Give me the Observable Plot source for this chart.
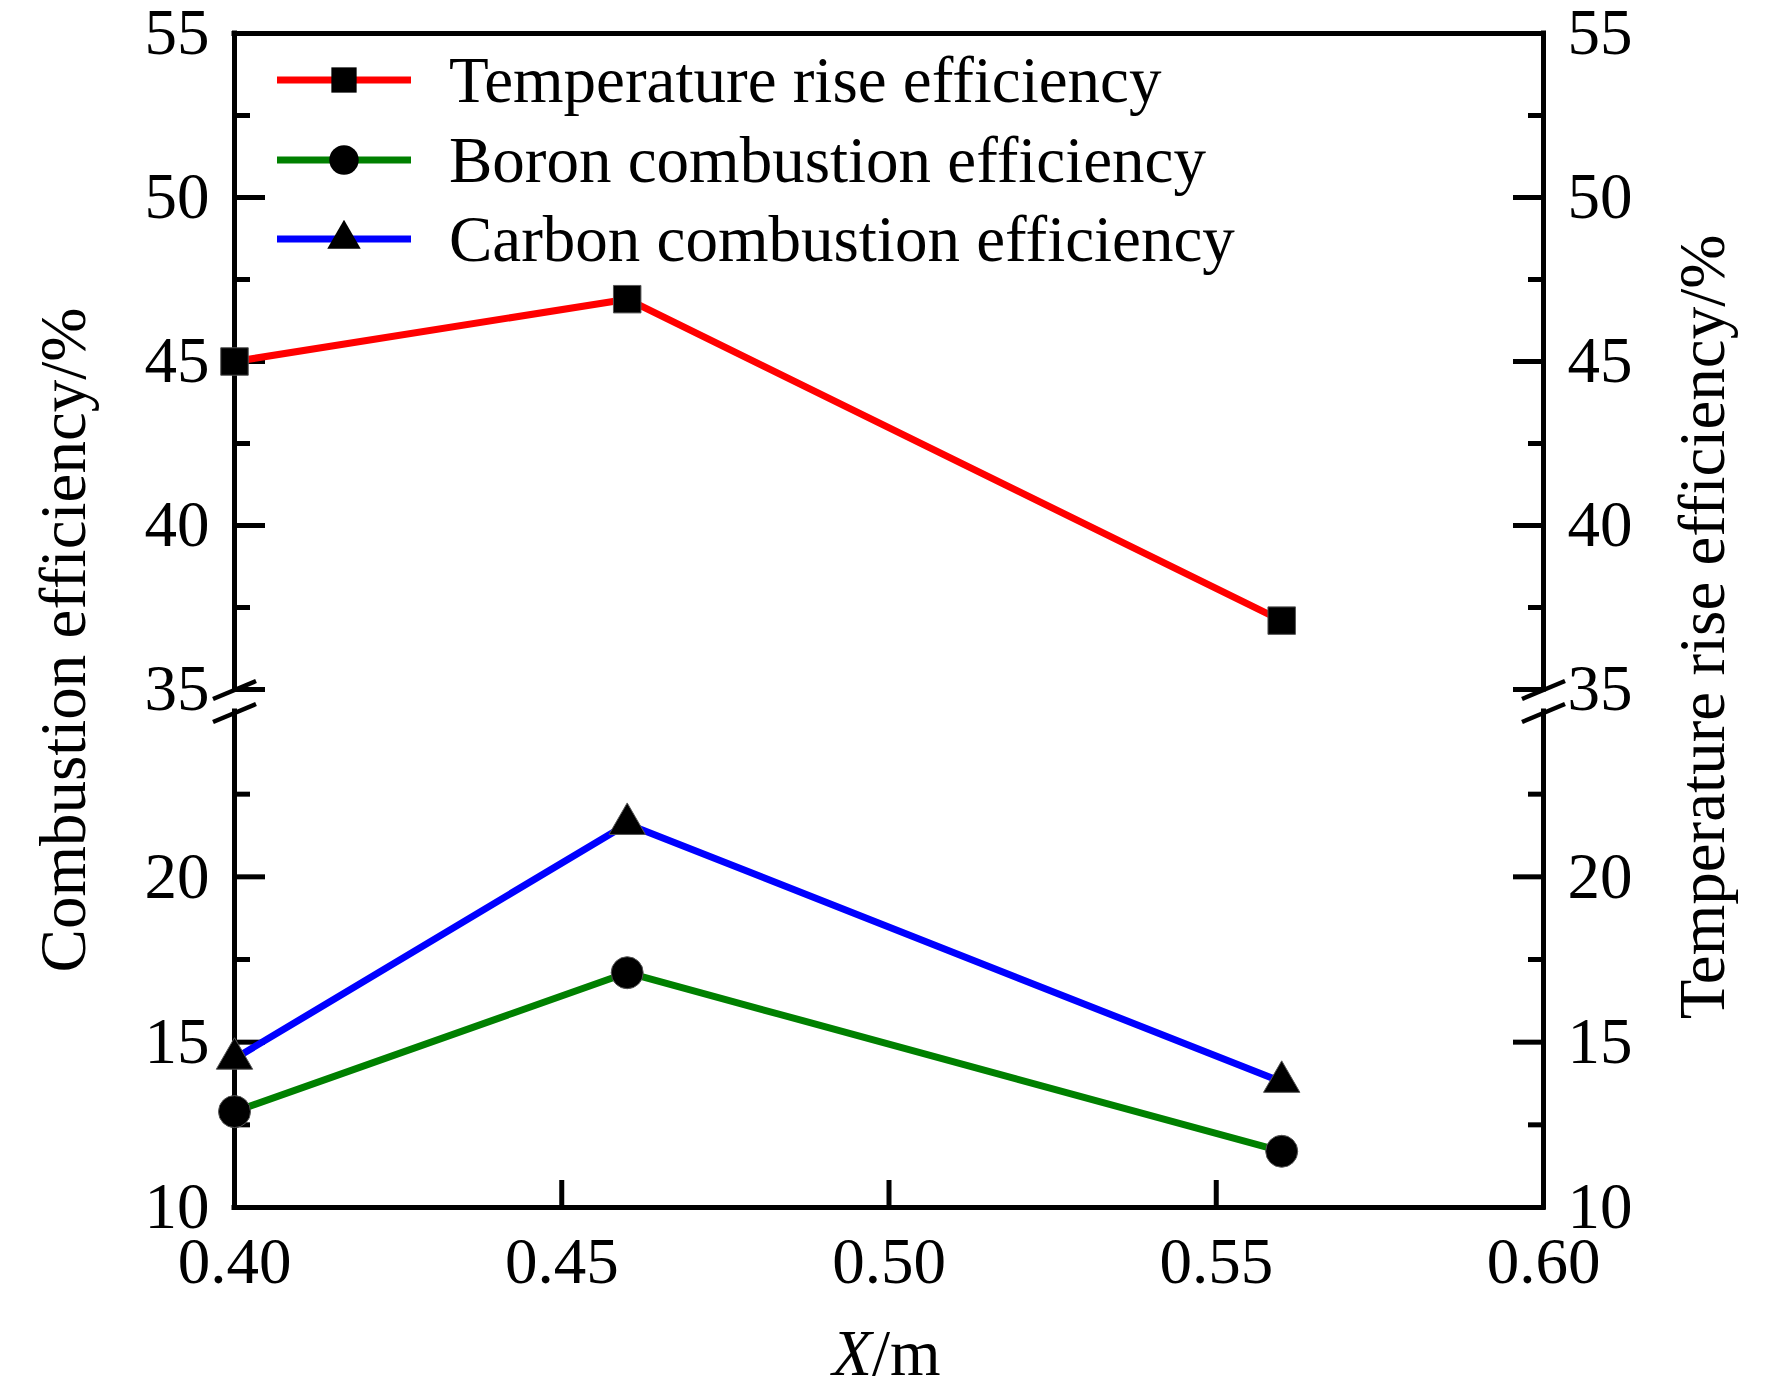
<!DOCTYPE html>
<html>
<head>
<meta charset="utf-8">
<script src="https://cdn.jsdelivr.net/npm/d3@7"></script>
<script src="https://cdn.jsdelivr.net/npm/@observablehq/plot@0.6"></script>
<style>
html, body { margin: 0; padding: 0; background: #fff; }
</style>
</head>
<body>
<div id="chart"></div>
<script>
// ---- data ----
const xPositions = [0.40, 0.46, 0.56];
const temperatureRise = [45.0, 46.9, 37.1];
const boronCombustion = [12.9, 17.1, 11.7];
const carbonCombustion = [14.5, 21.6, 13.8];
const seriesNames = ["Temperature rise efficiency", "Boron combustion efficiency", "Carbon combustion efficiency"];
const seriesColors = ["#ff0000", "#008000", "#0000ff"];
const seriesSymbols = ["square", "circle", "triangle"];
const yMajorTicks = [10, 15, 20, 35, 40, 45, 50, 55];
const yMinorTicks = [12.5, 17.5, 22.5, 37.5, 42.5, 47.5, 52.5];
const xTicks = [0.40, 0.45, 0.50, 0.55, 0.60];
const yDomain = [10, 25, 35, 55];   // broken axis: 10–25 and 35–55
const xDomain = [0.40, 0.60];
const yLabelLeft = "Combustion efficiency/%";
const yLabelRight = "Temperature rise efficiency/%";

// ---- layout ----
const W = 1772, H = 1396;
const mL = 234, mR = 229, mT = 33, mB = 189;
const FONT = "Liberation Serif, Times New Roman, serif";
const FS = 65;
const AXW = 5;
const symbolR = {square: 15.5, circle: 16, triangle: 13.5};

const seriesValues = [temperatureRise, boronCombustion, carbonCombustion];
const rows = seriesValues.flatMap((vals, i) =>
  vals.map((v, j) => ({x: xPositions[j], y: v, series: seriesNames[i]})));

const frameSegments = [];
for (const xv of xDomain) {
  frameSegments.push({x: xv, y1: yDomain[0], y2: yDomain[1]});
  frameSegments.push({x: xv, y1: yDomain[2], y2: yDomain[3]});
}

function decorations(index, scales, values, dims) {
  const g = d3.create("svg:g").attr("text-anchor", "start");
  const {x, y} = scales;
  // axis-break slashes
  for (const xv of xDomain) {
    const x0 = x(xv);
    for (const yc of [y(yDomain[2]) + 1, y(yDomain[1]) + 2]) {
      g.append("line")
        .attr("x1", x0 - 21).attr("y1", yc + 9)
        .attr("x2", x0 + 22).attr("y2", yc - 9)
        .attr("stroke", "black").attr("stroke-width", 4.5);
    }
  }
  // axis titles
  const midY = mT + (H - mT - mB) / 2;
  g.append("text")
    .attr("transform", `translate(85,${midY + 20}) rotate(-90)`)
    .attr("text-anchor", "middle")
    .attr("font-family", FONT).attr("font-size", FS).attr("fill", "black")
    .text(yLabelLeft);
  g.append("text")
    .attr("transform", `translate(1724,${midY + 7}) rotate(-90)`)
    .attr("text-anchor", "middle")
    .attr("font-family", FONT).attr("font-size", FS).attr("fill", "black")
    .text(yLabelRight);
  const xt = g.append("text")
    .attr("x", (x(xDomain[0]) + x(xDomain[1])) / 2 - 2)
    .attr("y", H - 21)
    .attr("text-anchor", "middle")
    .attr("font-family", FONT).attr("font-size", FS).attr("fill", "black");
  xt.append("tspan").attr("font-style", "italic").text("X");
  xt.append("tspan").text("/m");
  // legend
  const lx0 = mL + 43, lx1 = mL + 177, lm = mL + 110, tx = mL + 215;
  const rowY = [80, 160, 239];
  seriesNames.forEach((name, i) => {
    const yy = rowY[i];
    g.append("line").attr("x1", lx0).attr("x2", lx1).attr("y1", yy).attr("y2", yy)
      .attr("stroke", seriesColors[i]).attr("stroke-width", 7);
    const symType = {square: d3.symbolSquare, circle: d3.symbolCircle, triangle: d3.symbolTriangle}[seriesSymbols[i]];
    const rr = symbolR[seriesSymbols[i]] * 0.92;
    g.append("path")
      .attr("d", d3.symbol(symType, Math.PI * rr * rr)())
      .attr("transform", `translate(${lm},${yy})`)
      .attr("fill", "black");
    g.append("text").attr("x", tx).attr("y", yy + 22)
      .attr("text-anchor", "start")
      .attr("font-family", FONT).attr("font-size", FS).attr("fill", "black")
      .text(name);
  });
  return g.node();
}

const axisText = {fontSize: FS, fontFamily: FONT, fill: "black", label: null};

const plot = Plot.plot({
  width: W, height: H,
  marginLeft: mL, marginRight: mR, marginTop: mT, marginBottom: mB,
  style: {fontFamily: FONT, fontSize: FS + "px", background: "white", color: "black", overflow: "visible"},
  x: {type: "linear", domain: xDomain},
  y: {type: "linear", domain: yDomain, range: [H - mB, 711, 689, mT]},
  color: {domain: seriesNames, range: seriesColors},
  marks: [
    // frame
    Plot.ruleX(frameSegments, {x: "x", y1: "y1", y2: "y2", stroke: "black", strokeWidth: AXW, strokeLinecap: "square"}),
    Plot.ruleY([yDomain[0], yDomain[3]], {x1: xDomain[0], x2: xDomain[1], stroke: "black", strokeWidth: AXW, strokeLinecap: "square"}),
    // inward ticks
    Plot.axisY({anchor: "left", ticks: yMajorTicks, tickSize: -31, fill: "none", stroke: "black", strokeWidth: AXW}),
    Plot.axisY({anchor: "left", ticks: yMinorTicks, tickSize: -16, fill: "none", stroke: "black", strokeWidth: AXW}),
    Plot.axisY({anchor: "right", ticks: yMajorTicks, tickSize: -31, fill: "none", stroke: "black", strokeWidth: AXW}),
    Plot.axisY({anchor: "right", ticks: yMinorTicks, tickSize: -16, fill: "none", stroke: "black", strokeWidth: AXW}),
    Plot.axisX({anchor: "bottom", ticks: xTicks, tickSize: -27, fill: "none", stroke: "black", strokeWidth: AXW}),
    // tick labels
    Plot.axisY({anchor: "left", ticks: yMajorTicks, tickSize: 0, tickPadding: 25, ...axisText}),
    Plot.axisY({anchor: "right", ticks: yMajorTicks, tickSize: 0, tickPadding: 24, ...axisText}),
    Plot.axisX({anchor: "bottom", ticks: xTicks, tickSize: 0, tickPadding: 29, tickFormat: d3.format(".2f"), ...axisText}),
    // data
    Plot.line(rows, {x: "x", y: "y", z: "series", stroke: "series", strokeWidth: 7}),
    ...seriesNames.map((name, i) =>
      Plot.dot(rows.filter(d => d.series === name), {
        x: "x", y: "y", symbol: seriesSymbols[i], r: symbolR[seriesSymbols[i]],
        fill: "black", stroke: "#555", strokeWidth: 1
      })),
    decorations
  ]
});
document.getElementById("chart").appendChild(plot);
</script>
</body>
</html>
